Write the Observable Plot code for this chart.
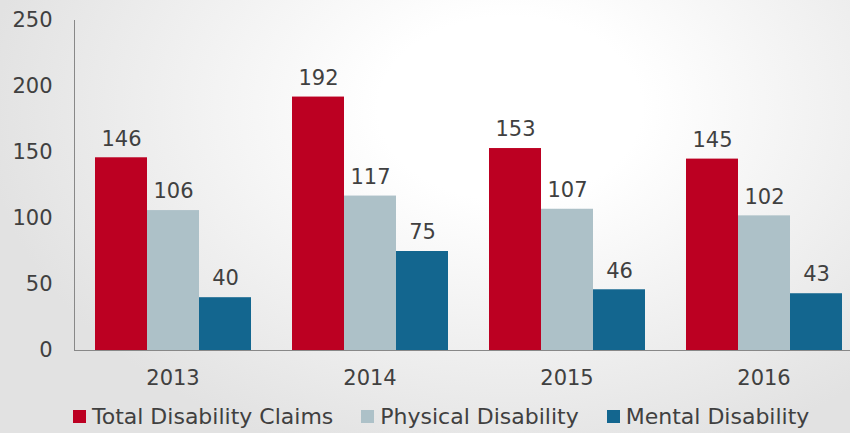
<!DOCTYPE html>
<html><head><meta charset="utf-8">
<script src="https://cdn.jsdelivr.net/npm/d3@7"></script>
<script src="https://cdn.jsdelivr.net/npm/@observablehq/plot@0.6"></script>
<style>
html,body{margin:0;padding:0;width:850px;height:433px;overflow:hidden;}
body{background: radial-gradient(ellipse 62% 85% at 60% 25%, #ffffff 25%, #e2e2e2 100%); font-family:"DejaVu Sans", sans-serif; color:#404040;}
#chart svg{display:block;}
#legend{display:flex; align-items:center; height:33px; padding-left:73px; font-size:22px; color:#404040; white-space:nowrap;}
#legend .item{display:flex; align-items:center; margin-right:28px;}
#legend .sw{width:13px; height:13px; margin-right:6px; display:inline-block;}
</style></head><body><div id="chart"></div><div id="legend"></div>
<script>
const years = ["2013", "2014", "2015", "2016"];
const series = ["Total Disability Claims", "Physical Disability", "Mental Disability"];
const total = [146, 192, 153, 145];
const physical = [106, 117, 107, 102];
const mental = [40, 75, 46, 43];
const yTicks = [0, 50, 100, 150, 200, 250];
const colors = ["#BC0022", "#ADC1C8", "#13668F"];

const values = [total, physical, mental];
const data = years.flatMap((y, i) => series.map((s, j) => ({year: y, series: s, value: values[j][i]})));

const plot = Plot.plot({
  width: 850, height: 400,
  marginLeft: 74, marginRight: -12, marginTop: 20, marginBottom: 50,
  style: {background: "transparent", fontFamily: "DejaVu Sans, sans-serif", fontSize: "21px", color: "#404040", overflow: "visible"},
  fx: {domain: years, padding: 0, label: null},
  x: {domain: series, axis: null, paddingInner: 0, paddingOuter: 0.382},
  y: {domain: [0, 250], label: null},
  color: {domain: series, range: colors},
  marks: [
    Plot.barY(data, {fx: "year", x: "series", y: "value", fill: "series"}),
    Plot.text(data, {fx: "year", x: "series", y: "value", text: d => String(d.value), dy: -19, fill: "#404040", fontSize: 21}),
    Plot.axisY({ticks: yTicks, tickSize: 0, tickPadding: 22, label: null, fontSize: 21}),
    Plot.axisFx({anchor: "bottom", tickSize: 0, tickPadding: 20, label: null, fontSize: 21}),
    Plot.frame({anchor: "left", facet: "super", stroke: "#888"}),
    Plot.frame({anchor: "bottom", facet: "super", stroke: "#888"})
  ]
});
document.getElementById("chart").appendChild(plot);

const color = plot.scale("color");
const legend = document.getElementById("legend");
series.forEach((s, i) => {
  const item = document.createElement("span");
  item.className = "item";
  const sw = document.createElement("span");
  sw.className = "sw";
  sw.style.background = color.range[i];
  item.appendChild(sw);
  item.appendChild(document.createTextNode(s));
  legend.appendChild(item);
});
</script></body></html>
